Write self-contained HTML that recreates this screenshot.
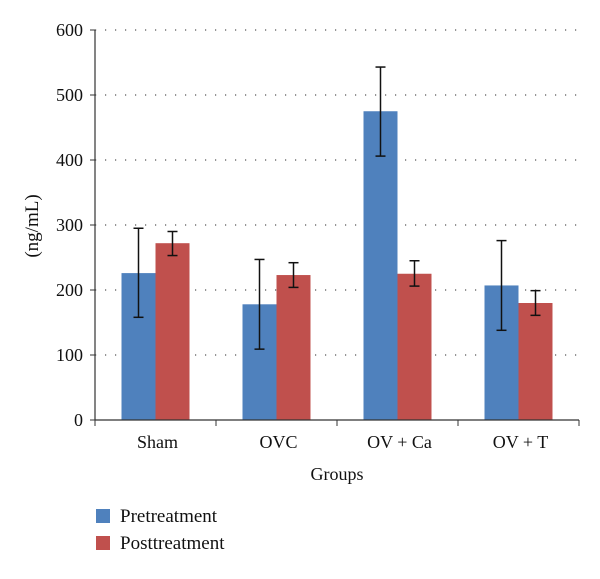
<!DOCTYPE html>
<html><head><meta charset="utf-8"><style>
body{margin:0;background:#fff;}
svg text{font-family:"Liberation Serif",serif;fill:#111;}
</style></head><body>
<svg id="c" width="600" height="574" xmlns="http://www.w3.org/2000/svg"></svg>
<script>
const categories=["Sham","OVC","OV + Ca","OV + T"];
const preValues=[226,178,475,207];
const preErrHigh=[295,247,543,276];
const preErrLow=[158,109,406,138];
const postValues=[272,223,225,180];
const postErrHigh=[290,242,245,199];
const postErrLow=[253,204,206,161];
const yTicks=[0,100,200,300,400,500,600];
const NS="http://www.w3.org/2000/svg";
const svg=document.getElementById('c');
const x0=95,x1=579,yBase=420,yTop=30,yMax=600;
const y=v=>yBase-(v/yMax)*(yBase-yTop);
const catW=(x1-x0)/categories.length;
const bw=34;
function el(t,a,p){const e=document.createElementNS(NS,t);for(const k in a)e.setAttribute(k,a[k]);(p||svg).appendChild(e);return e;}
yTicks.forEach(t=>{
  if(t>0){const g=el('line',{x1:x0,x2:x1,y1:y(t),y2:y(t),stroke:'#555','stroke-width':1.2,'stroke-dasharray':'1.2 8.8'});
  
  }
  const tk=el('line',{x1:x0-5,x2:x0,y1:y(t),y2:y(t),stroke:'#333'});
  
  
  const tx=el('text',{x:x0-12,y:y(t)+6,'text-anchor':'end','font-size':18});
  tx.textContent=t;
  
  
});
function bar(cx,v,hi,lo,color,name){
  const r=el('rect',{x:cx,y:y(v),width:bw,height:yBase-y(v),fill:color});
  
  
  const m=cx+bw/2;
  const g=el('g',{stroke:'#111','stroke-width':1.5});
  
  
  el('line',{x1:m,x2:m,y1:y(hi),y2:y(lo)},g);
  el('line',{x1:m-5,x2:m+5,y1:y(hi),y2:y(hi)},g);
  el('line',{x1:m-5,x2:m+5,y1:y(lo),y2:y(lo)},g);
}
categories.forEach((c,i)=>{
  const cc=x0+catW*(i+0.5);
  bar(cc-bw,preValues[i],preErrHigh[i],preErrLow[i],'#4f81bd','bar-pre-'+i);
  bar(cc,postValues[i],postErrHigh[i],postErrLow[i],'#c0504d','bar-post-'+i);
  const t=el('text',{x:cc+2,y:448,'text-anchor':'middle','font-size':18});
  t.textContent=c;
  
  
});
for(let i=0;i<=categories.length;i++){
  const tk=el('line',{x1:x0+catW*i,x2:x0+catW*i,y1:yBase,y2:yBase+6,stroke:'#333'});
  
  
}
const ya=el('line',{x1:x0,x2:x0,y1:yTop,y2:yBase,stroke:'#333','stroke-width':1.2});


const xa=el('line',{x1:x0,x2:x1,y1:yBase,y2:yBase,stroke:'#333','stroke-width':1.2});


const xt=el('text',{x:337,y:480,'text-anchor':'middle','font-size':18});
xt.textContent='Groups';


const yt=el('text',{x:0,y:0,'text-anchor':'middle','font-size':19,transform:'translate(38,226) rotate(-90)'});
yt.textContent='(ng/mL)';


[['Pretreatment','#4f81bd',516],['Posttreatment','#c0504d',543]].forEach((d,i)=>{
  const g=el('g',{});
  
  
  el('rect',{x:96,y:d[2]-7,width:14,height:14,fill:d[1]},g);
  const t=el('text',{x:120,y:d[2]+6,'font-size':19},g);
  t.textContent=d[0];
});
</script>
</body></html>
